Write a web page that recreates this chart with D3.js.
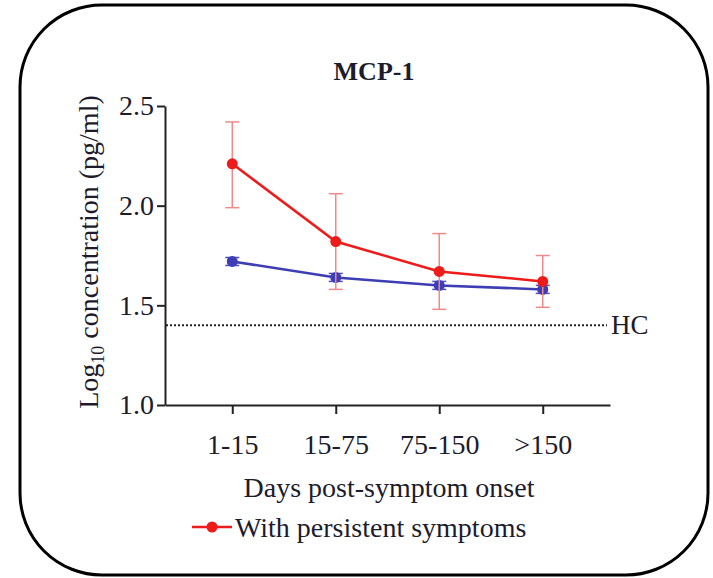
<!DOCTYPE html>
<html>
<meta charset="utf-8">
<script src="https://d3js.org/d3.v7.min.js"></script>
<style>
  body { margin: 0; background: #fff; }
  text { font-family: "Liberation Serif", "DejaVu Serif", serif; fill: #1c1c2c; }
</style>
<body>
<script>
// days post-symptom onset groups
var categories = ["1-15", "15-75", "75-150", ">150"];
// with persistent symptoms (red)
var persistMean = [2.21, 1.82, 1.67, 1.62];
var persistLow  = [1.99, 1.58, 1.48, 1.49];
var persistHigh = [2.42, 2.06, 1.86, 1.75];
// without persistent symptoms (blue)
var recoverMean = [1.72, 1.64, 1.60, 1.58];
var recoverLow  = [1.70, 1.62, 1.58, 1.56];
var recoverHigh = [1.74, 1.66, 1.62, 1.60];
var yTicks = [1.0, 1.5, 2.0, 2.5];
var hcValue = 1.40;

var W = 713, H = 578;
var svg = d3.select("body").append("svg")
    .attr("width", W)
    .attr("height", H);

// rounded frame
svg.append("rect")
    .attr("x", 20).attr("y", 5)
    .attr("width", 688).attr("height", 570)
    .attr("rx", 82).attr("ry", 82)
    .style("fill", "none")
    .style("stroke", "#000")
    .style("stroke-width", 3);

var x = d3.scalePoint().domain(categories).range([165, 610]).padding(0.65);
var y = d3.scaleLinear().domain([1, 2.5]).range([405, 106]);

// axes
var xAxis = svg.append("g")
    .attr("transform", "translate(0,405)")
    .call(d3.axisBottom(x).tickSize(9).tickSizeOuter(0).tickPadding(20));
var yAxis = svg.append("g")
    .attr("transform", "translate(165,0)")
    .call(d3.axisLeft(y).tickValues(yTicks).tickFormat(d3.format(".1f")).tickSize(8).tickSizeOuter(0).tickPadding(3));

[xAxis, yAxis].forEach(function(a) {
  a.selectAll("path, line").style("stroke", "#222").style("stroke-width", 2);
  a.selectAll("text").style("font-size", "28px").style("font-family", "Liberation Serif, serif").style("fill", "#1c1c2c");
});

// healthy control reference line
svg.append("line")
    .attr("x1", 166).attr("x2", 607)
    .attr("y1", y(hcValue)).attr("y2", y(hcValue))
    .style("stroke", "#222")
    .style("stroke-width", 2)
    .style("stroke-dasharray", "2,2");
svg.append("text")
    .attr("x", 611).attr("y", y(hcValue) + 9)
    .style("font-size", "27px")
    .text("HC");

function drawSeries(mean, low, high, color, barColor) {
  var g = svg.append("g");
  // error bars
  categories.forEach(function(c, i) {
    var cx = x(c);
    g.append("line")
        .attr("x1", cx).attr("x2", cx)
        .attr("y1", y(low[i])).attr("y2", y(high[i]))
        .style("stroke", barColor).style("stroke-width", 1.5);
    [low[i], high[i]].forEach(function(v) {
      g.append("line")
          .attr("x1", cx - 7).attr("x2", cx + 7)
          .attr("y1", y(v)).attr("y2", y(v))
          .style("stroke", barColor).style("stroke-width", 1.5);
    });
  });
  var line = d3.line()
      .x(function(d, i) { return x(categories[i]); })
      .y(function(d) { return y(d); });
  g.append("path")
      .datum(mean)
      .attr("d", line)
      .style("fill", "none")
      .style("stroke", color)
      .style("stroke-width", 2.5);
  g.selectAll("circle")
      .data(mean)
      .enter().append("circle")
      .attr("cx", function(d, i) { return x(categories[i]); })
      .attr("cy", function(d) { return y(d); })
      .attr("r", 5.5)
      .style("fill", color);
}

drawSeries(recoverMean, recoverLow, recoverHigh, "#3d3db4", "#5050c0");
drawSeries(persistMean, persistLow, persistHigh, "#ee1b1b", "#f08a8a");

// titles
svg.append("text")
    .attr("x", 374).attr("y", 80)
    .attr("text-anchor", "middle")
    .style("font-size", "26px")
    .style("font-weight", "bold")
    .text("MCP-1");

svg.append("text")
    .attr("x", 389).attr("y", 497)
    .attr("text-anchor", "middle")
    .style("font-size", "28px")
    .text("Days post-symptom onset");

var yTitle = svg.append("text")
    .attr("transform", "translate(98,252) rotate(-90)")
    .attr("text-anchor", "middle")
    .style("font-size", "28px");
yTitle.append("tspan").text("Log");
yTitle.append("tspan").attr("dy", 6).style("font-size", "18px").text("10");
yTitle.append("tspan").attr("dy", -6).text(" concentration (pg/ml)");

// legend
var leg = svg.append("g").attr("transform", "translate(0,527)");
leg.append("line")
    .attr("x1", 192).attr("x2", 232)
    .style("stroke", "#ee1b1b").style("stroke-width", 2.5);
leg.append("circle")
    .attr("cx", 212).attr("r", 5.5)
    .style("fill", "#ee1b1b");
leg.append("text")
    .attr("x", 235).attr("y", 10)
    .style("font-size", "28px")
    .text("With persistent symptoms");
</script>
</body>
</html>
